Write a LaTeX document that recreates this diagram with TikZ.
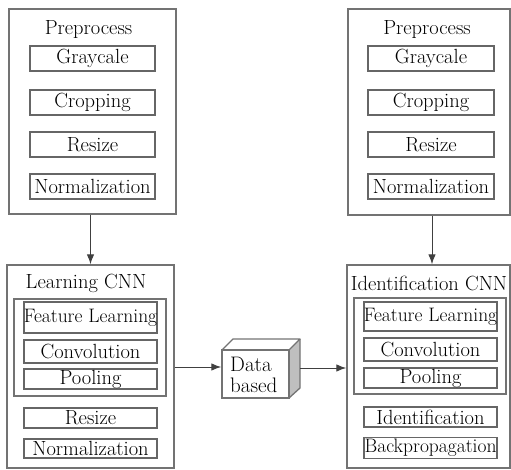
\documentclass[tikz,border=0pt]{standalone}
\usetikzlibrary{arrows.meta}
\newcommand{\zb}[1]{\makebox[0pt]{#1}}
\begin{document}
\begin{tikzpicture}[x=1pt,y=-1pt,
  frame/.style={draw=black!55,line width=1.4pt,inner sep=0pt},
  item/.style={draw=black!60,line width=1.3pt,inner sep=0pt,font=\fontsize{20.5}{22}\selectfont},
  wide/.style={font=\fontsize{19.5}{21}\selectfont},
  ttl/.style={inner sep=0pt,font=\fontsize{20.5}{22}\selectfont},
  arr/.style={draw=black!75,line width=1pt,-{Latex[length=10pt,width=7.5pt]}}]
\useasboundingbox (0,0) rectangle (511,470);
% left preprocess
\node[frame,minimum width=167pt,minimum height=205pt] (lp) at (92.5,111.5) {};
\node[ttl] (lpt) at (88.5,30) {Preprocess};
\node[item,minimum width=125pt,minimum height=25pt] (lg) at (92.5,58.5) {\zb{Graycale}};
\node[item,minimum width=125pt,minimum height=25pt] (lc) at (92.5,102.5) {\zb{Cropping}};
\node[item,minimum width=125pt,minimum height=25pt] (lr) at (92.5,144.5) {\zb{Resize}};
\node[item,minimum width=125pt,minimum height=25pt] (ln) at (92.5,186.5) {\zb{Normalization}};
% right preprocess
\node[frame,minimum width=162pt,minimum height=206pt] (rp) at (429,112) {};
\node[ttl] (rpt) at (427,30) {Preprocess};
\node[item,minimum width=126pt,minimum height=25pt] (rg) at (431,58.5) {\zb{Graycale}};
\node[item,minimum width=126pt,minimum height=25pt] (rc) at (431,102.5) {\zb{Cropping}};
\node[item,minimum width=126pt,minimum height=25pt] (rr) at (431,144.5) {\zb{Resize}};
\node[item,minimum width=126pt,minimum height=25pt] (rn) at (431,186.5) {\zb{Normalization}};
% learning CNN
\node[frame,minimum width=167pt,minimum height=203pt] (lcnn) at (90.5,366.5) {};
\node[ttl] (lcnnt) at (86,283) {Learning CNN};
\node[frame,minimum width=152pt,minimum height=97pt] (lgrp) at (90,347.5) {};
\node[item,wide,minimum width=133pt,minimum height=31pt] (lfl) at (90.5,317.5) {\zb{Feature Learning}};
\node[item,minimum width=133pt,minimum height=23pt] (lcv) at (90.5,351.5) {\zb{Convolution}};
\node[item,minimum width=133pt,minimum height=20pt] (lpo) at (90.5,379) {\zb{Pooling}};
\node[item,minimum width=133pt,minimum height=20pt] (lrs) at (90.5,418) {\zb{Resize}};
\node[item,minimum width=133pt,minimum height=19pt] (lno) at (90.5,448.5) {\zb{Normalization}};
% identification CNN
\node[frame,minimum width=163pt,minimum height=203pt] (icnn) at (428.5,366.5) {};
\node[ttl] (icnnt) at (429,283) {Identification CNN};
\node[frame,minimum width=152pt,minimum height=96pt] (igrp) at (430,346) {};
\node[item,wide,minimum width=133pt,minimum height=29pt] (ifl) at (430.5,316.5) {\zb{Feature Learning}};
\node[item,minimum width=133pt,minimum height=23pt] (icv) at (430.5,349.5) {\zb{Convolution}};
\node[item,minimum width=133pt,minimum height=20pt] (ipo) at (430.5,378) {\zb{Pooling}};
\node[item,minimum width=133pt,minimum height=20pt] (iid) at (430.5,417) {\zb{Identification}};
\node[item,wide,minimum width=133pt,minimum height=21pt] (ibp) at (430.5,448) {\zb{Backpropagation}};
% data box
\fill[black!25] (289,350) -- (300,339) -- (300,388) -- (289,398) -- cycle;
\draw[black!55,line width=1.3pt,line join=round] (222,350) -- (233,339) -- (300,339) -- (289,350);
\draw[black!55,line width=1.3pt,line join=round] (300,339) -- (300,388) -- (289,398);
\node[frame,minimum width=67pt,minimum height=48pt] (db) at (255.5,374) {};
\node[ttl,align=left,anchor=west,font=\fontsize{21}{21}\selectfont] (dbt) at (230,375) {Data\\based};
\coordinate (dbr) at (300,368);
% arrows
\draw[arr] (lp.south -| lcnn.north) -- (lcnn.north);
\draw[arr] (rp.south -| icnn.north) ++(3.5,0) coordinate (rps) -- (rps |- icnn.north);
\draw[arr] (lcnn.east |- 0,367) -- (db.west |- 0,367);
\draw[arr] (dbr) -- (icnn.west |- dbr);
\end{tikzpicture}
\end{document}
